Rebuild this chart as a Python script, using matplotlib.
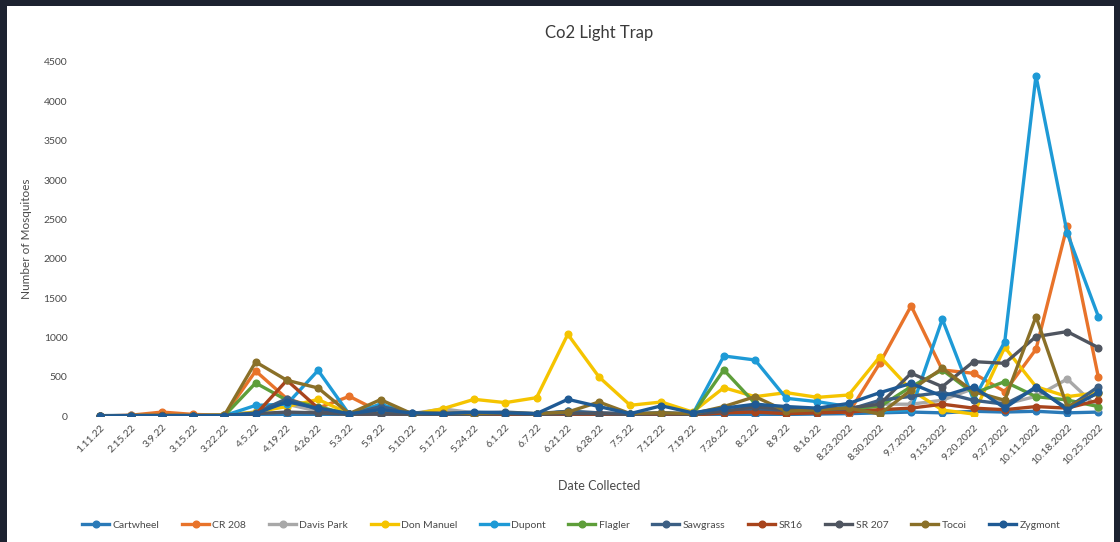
import matplotlib
matplotlib.use("Agg")
import matplotlib.pyplot as plt
from matplotlib.patches import Rectangle

# -------------------------------
# data
dates = ["1.11.22", "2.15.22", "3.9.22", "3.15.22", "3.22.22", "4.5.22", "4.19.22",
         "4.26.22", "5.3.22", "5.9.22", "5.10.22", "5.17.22", "5.24.22", "6.1.22",
         "6.7.22", "6.21.22", "6.28.22", "7.5.22", "7.12.22", "7.19.22", "7.26.22",
         "8.2.22", "8.9.22", "8.16.22", "8.23.2022", "8.30.2022", "9.7.2022",
         "9.13.2022", "9.20.2022", "9.27.2022", "10.11.2022", "10.18.2022", "10.25.2022"]

cartwheel = [5, 8, 10, 8, 10, 20, 15, 20, 10, 15, 10, 12, 15, 10, 8, 20, 10,
             8, 15, 10, 20, 15, 20, 25, 30, 40, 50, 40, 60, 50, 60, 40, 50]
cr208 = [0, 10, 50, 20, 10, 572, 220, 100, 250, 50, 20, 15, 20, 20, 15, 30, 40,
         20, 30, 20, 50, 80, 60, 70, 40, 674, 1400, 585, 543, 310, 848, 2417, 492]
davis_park = [0, 5, 10, 5, 10, 50, 150, 60, 20, 80, 30, 90, 40, 30, 20, 60, 40,
              20, 30, 20, 80, 100, 60, 80, 70, 150, 150, 200, 350, 150, 250, 470, 100]
don_manuel = [0, 5, 10, 5, 10, 50, 120, 210, 30, 50, 20, 93, 212, 170, 233, 1039, 496,
              136, 178, 50, 360, 246, 297, 237, 267, 755, 330, 76, 25, 873, 373, 246, 297]
dupont = [0, 5, 5, 5, 5, 135, 150, 580, 20, 150, 30, 20, 30, 40, 20, 60, 30,
          20, 40, 20, 763, 712, 225, 182, 119, 55, 80, 1230, 204, 945, 4325, 2327, 1263]
flagler = [0, 5, 5, 5, 5, 420, 200, 120, 20, 100, 20, 30, 20, 30, 20, 40, 30,
           20, 20, 20, 585, 160, 55, 80, 100, 120, 373, 585, 288, 437, 246, 204, 119]
sawgrass = [0, 5, 5, 5, 5, 40, 220, 80, 20, 120, 40, 30, 40, 50, 30, 60, 40,
            30, 40, 30, 50, 90, 60, 70, 80, 200, 250, 300, 200, 150, 350, 100, 373]
sr16 = [0, 5, 10, 5, 5, 20, 454, 100, 20, 30, 20, 10, 20, 20, 10, 20, 20,
        10, 20, 10, 40, 50, 30, 40, 50, 80, 100, 150, 100, 80, 120, 100, 200]
sr207 = [0, 5, 5, 5, 5, 30, 50, 40, 20, 30, 20, 20, 20, 30, 20, 30, 30,
         20, 30, 20, 60, 120, 80, 90, 100, 150, 543, 373, 691, 670, 1009, 1073, 869]
tocoi = [0, 5, 5, 5, 10, 687, 454, 356, 30, 208, 30, 40, 30, 40, 30, 50, 178,
         30, 40, 30, 120, 246, 60, 80, 100, 25, 330, 606, 310, 200, 1263, 120, 290]
zygmont = [0, 5, 5, 5, 5, 30, 180, 100, 30, 80, 40, 30, 50, 40, 30, 212, 120,
           30, 130, 40, 100, 150, 120, 100, 160, 297, 415, 250, 373, 100, 373, 80, 300]

series = [
    ("Cartwheel", cartwheel, "#2a7ab8"),
    ("CR 208", cr208, "#e8732a"),
    ("Davis Park", davis_park, "#a8a8a8"),
    ("Don Manuel", don_manuel, "#f5c400"),
    ("Dupont", dupont, "#1e9ad6"),
    ("Flagler", flagler, "#5e9e3a"),
    ("Sawgrass", sawgrass, "#3c5f84"),
    ("SR16", sr16, "#a8441c"),
    ("SR 207", sr207, "#4f5560"),
    ("Tocoi", tocoi, "#8a7028"),
    ("Zygmont", zygmont, "#1f5a94"),
]

# -------------------------------
plt.rcParams["font.family"] = ["Lato", "DejaVu Sans"]
text_col = "#4a4a4a"

fig = plt.figure(figsize=(11.2, 5.42), dpi=100)
fig.patch.set_facecolor("#1d2230")
# white "screen" area inside the dark photo border
fig.add_artist(Rectangle((7 / 1120, 0), 1 - 13 / 1120, 1 - 6 / 542,
                         transform=fig.transFigure, facecolor="white",
                         edgecolor="none", zorder=0))

ax = fig.add_axes([84 / 1120, 126 / 542, 1030 / 1120, 354 / 542])
ax.set_facecolor("white")

x = list(range(len(dates)))
for name, vals, col in series:
    ax.plot(x, vals, color=col, lw=2.4, marker="o", ms=4.8,
            markeredgecolor=col, label=name)

ax.set_xlim(-0.5, len(dates) - 0.5)
ax.set_ylim(0, 4500)
ax.set_yticks(range(0, 4501, 500))
ax.set_xticks(x)
ax.set_xticklabels(dates, rotation=45, ha="right", rotation_mode="anchor",
                   fontsize=7.5, color=text_col)
ax.tick_params(axis="y", labelsize=7.5, colors=text_col, length=0, pad=12)
ax.tick_params(axis="x", length=0, pad=5)
for s in ax.spines.values():
    s.set_visible(False)

ax.set_title("Co2 Light Trap", fontsize=12, color="#3a3a3a", y=1.045)
ax.set_ylabel("Number of Mosquitoes", fontsize=8.5, color=text_col, labelpad=8)
ax.set_xlabel("Date Collected", fontsize=9, color=text_col, labelpad=10)

fig.legend(loc="center", bbox_to_anchor=(0.51, 17 / 542), ncol=11, frameon=False,
           fontsize=7.5, handlelength=2.6, columnspacing=2.2, handletextpad=0.3,
           labelcolor=text_col)

fig.savefig("out.png", dpi=100, facecolor=fig.get_facecolor())
